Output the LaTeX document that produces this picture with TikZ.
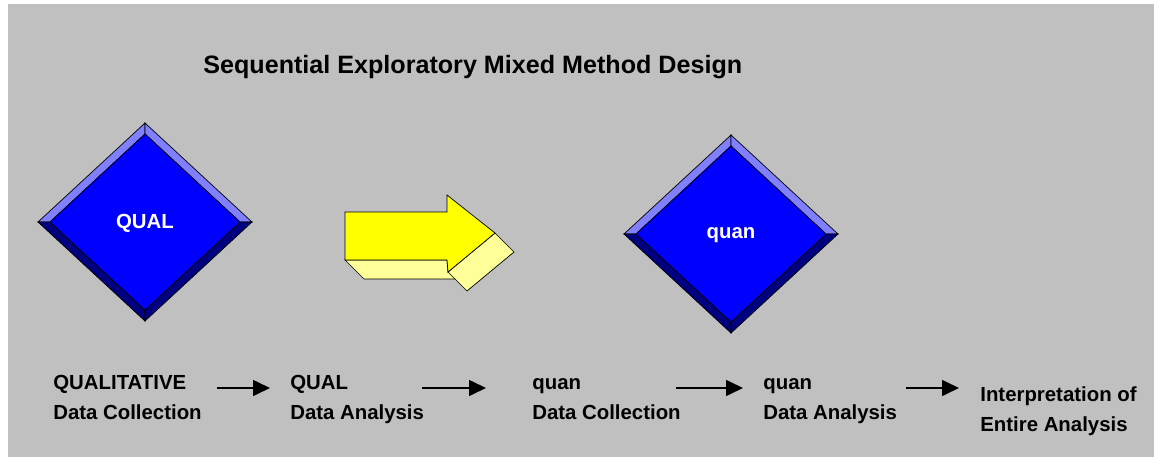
\documentclass[tikz,border=0pt]{standalone}
\usepackage{fontspec}
\setmainfont{Liberation Sans}
\usetikzlibrary{arrows.meta}

\definecolor{panel}{HTML}{C0C0C0}
\definecolor{facefront}{HTML}{0000FF}
\definecolor{facelight}{HTML}{8080FF}
\definecolor{facedark}{HTML}{000080}
\definecolor{arrowfront}{HTML}{FFFF00}
\definecolor{arrowside}{HTML}{FFFF99}

\tikzset{
  stagelabel/.style={anchor=north west, inner sep=0pt, align=left,
    font=\fontsize{11.6}{17}\selectfont\bfseries},
  facelabel/.style={inner sep=0pt, text=white,
    font=\fontsize{11.6}{17}\selectfont\bfseries},
  flow/.style={line width=0.9pt, -{Triangle[length=0.34cm,width=0.32cm]}},
  edge3d/.style={draw=black, line width=0.4pt}
}

\begin{document}
\begin{tikzpicture}[x=0.02cm, y=-0.02cm]
    \useasboundingbox (0,0) rectangle (1154,457);
    \fill[white] (0,0) rectangle (1154,457);
    \fill[panel] (8,4) rectangle (1154,457);

    % title
    \node (title) [anchor=base west, inner sep=0pt,
      font=\fontsize{14.3}{17}\selectfont\bfseries] at (203,73)
      {Sequential Exploratory Mixed Method Design};

    % bevelled diamonds
    \foreach \nm/\cx/\cy/\txt in {qual/145/222/QUAL, quan/731/234/quan} {
      \coordinate (\nm-ol) at (\cx-107,\cy);
      \coordinate (\nm-ot) at (\cx,\cy-99);
      \coordinate (\nm-or) at (\cx+107,\cy);
      \coordinate (\nm-ob) at (\cx,\cy+99);
      \coordinate (\nm-il) at (\cx-95,\cy);
      \coordinate (\nm-it) at (\cx,\cy-88);
      \coordinate (\nm-ir) at (\cx+95,\cy);
      \coordinate (\nm-ib) at (\cx,\cy+88);
      \path[edge3d, fill=facelight] (\nm-ol) -- (\nm-ot) -- (\nm-it) -- (\nm-il) -- cycle;
      \path[edge3d, fill=facelight] (\nm-ot) -- (\nm-or) -- (\nm-ir) -- (\nm-it) -- cycle;
      \path[edge3d, fill=facedark] (\nm-ol) -- (\nm-ob) -- (\nm-ib) -- (\nm-il) -- cycle;
      \path[edge3d, fill=facedark] (\nm-ob) -- (\nm-or) -- (\nm-ir) -- (\nm-ib) -- cycle;
      \path[edge3d, fill=facefront] (\nm-il) -- (\nm-it) -- (\nm-ir) -- (\nm-ib) -- cycle;
      \node[facelabel] (\nm) at (\cx,\cy+1) {\txt};
    }

    % yellow block arrow
    \path[edge3d, fill=arrowside] (345,260) -- (364,279) -- (455,279) -- (467,291)
      -- (514,252) -- (495,233) -- (448,272) -- (447,260) -- cycle;
    \draw[line width=0.4pt] (448,272) -- (455,279);
    \path[edge3d, fill=arrowfront] (345,212) -- (447,212) -- (447,195) -- (495,233)
      -- (448,272) -- (447,260) -- (345,260) -- cycle;

    % stages
    \node[stagelabel] (s1) at (53,368) {\strut QUALITATIVE\\\strut Data Collection};
    \node[stagelabel] (s2) at (290,368) {\strut QUAL\\\strut Data Analysis};
    \node[stagelabel] (s3) at (532,368) {\strut quan\\\strut Data Collection};
    \node[stagelabel] (s4) at (763,368) {\strut quan\\\strut Data Analysis};
    \node[stagelabel] (s5) at (980,380) {\strut Interpretation of\\\strut Entire Analysis};

    \foreach \i/\a/\b in {1/217/270, 2/422/486, 3/676/743, 4/906/959} {
      \coordinate (f\i s) at (\a,388);
      \coordinate (f\i e) at (\b,388);
      \draw[flow] (f\i s) -- (f\i e);
    }
\end{tikzpicture}
\end{document}
